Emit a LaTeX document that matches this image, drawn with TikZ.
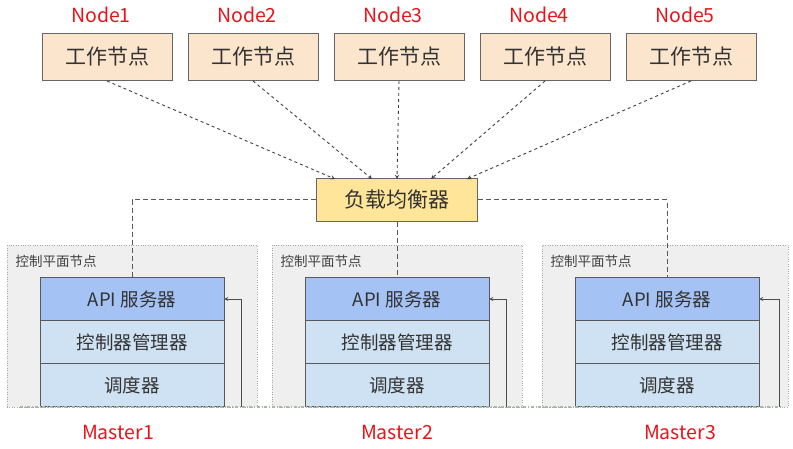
\documentclass[tikz,border=0pt]{standalone}
\usepackage{fontspec}
\setmainfont{Noto Sans CJK SC}
\usetikzlibrary{positioning}
\definecolor{workerfill}{HTML}{FCE5CD}
\definecolor{lbfill}{HTML}{FFE599}
\definecolor{apifill}{HTML}{A4C2F4}
\definecolor{layerfill}{HTML}{CFE2F3}
\definecolor{cpfill}{HTML}{EFEFEF}
\definecolor{edgegray}{HTML}{666666}
\definecolor{tagred}{HTML}{E8141B}

\begin{document}
\begin{tikzpicture}[x=1pt,y=-1pt,node distance=15pt,>=stealth,
    worker/.style={draw=edgegray,fill=workerfill,line width=1pt,minimum width=130pt,minimum height=47pt,font=\fontsize{21}{24}\selectfont,text=black!80},
    balancer/.style={draw=edgegray,fill=lbfill,line width=1pt,minimum width=161pt,minimum height=43pt,font=\fontsize{21}{24}\selectfont,text=black!80},
    layer/.style={draw=black!65,fill=layerfill,line width=1pt,minimum width=184pt,minimum height=43pt,outer sep=0pt,font=\fontsize{18.5}{20}\selectfont,text=black!80},
    api/.style={layer,fill=apifill},
    cpbox/.style={draw=black!35,dotted,fill=cpfill,minimum height=162pt},
    cptitle/.style={font=\fontsize{13.5}{15}\selectfont,text=black!75,anchor=west},
    tag/.style={text=tagred,font=\fontsize{19.5}{22}\selectfont},
    link/.style={dashed,draw=black!75,line width=0.9pt},
    uplink/.style={dash pattern=on 5pt off 3pt,draw=black!65,line width=1pt}]
    \useasboundingbox (0,0) rectangle (793,449);
    % control plane regions
    \node[cpbox,minimum width=250pt] (cp1) at (132,326) {};
    \node[cpbox,minimum width=250pt] (cp2) at (397,326) {};
    \node[cpbox,minimum width=246pt] (cp3) at (665,326) {};
    \node[cptitle] (cpt1) at (12,261) {控制平面节点};
    \node[cptitle] (cpt2) at (277,261) {控制平面节点};
    \node[cptitle] (cpt3) at (547,261) {控制平面节点};
    % workers
    \node[worker] (w1) at (107,57) {工作节点};
    \node[worker] (w2) [right = of w1] {工作节点};
    \node[worker] (w3) [right = of w2] {工作节点};
    \node[worker] (w4) [right = of w3] {工作节点};
    \node[worker] (w5) [right = of w4] {工作节点};
    \foreach \i in {1,...,5}
        \node[tag] (t\i) at ([xshift=-6pt,yshift=18pt]w\i.north) {Node\i};
    % load balancer
    \node[balancer] (lb) at (397,200) {负载均衡器};
    % masters
    \foreach \i/\x/\d in {1/132/-14,2/397/0,3/667/13} {
        \node[api] (api\i) at (\x,299) {API 服务器};
        \node[layer] (cm\i) [below = 0pt of api\i] {控制器管理器};
        \node[layer] (sch\i) [below = 0pt of cm\i] {调度器};
        \node[tag] (m\i) at ([xshift=\d pt,yshift=-26pt]sch\i.south) {Master\i};
    }
    % bottom line
    \coordinate (bl) at (20,407);
    \coordinate (br) at (781,407);
    \draw[green!20!black!35,dash dot,line width=1.2pt] (bl) -- (br);
    % feedback
    \coordinate (fb1) at (241,407);
    \coordinate (fb2) at (506,407);
    \coordinate (fb3) at (779,407);
    \foreach \i in {1,2,3}
        \draw[->,draw=black!70,line width=0.9pt] (fb\i) |- (api\i.east);
    % workers to balancer
    \coordinate (in1) at (335,179);
    \coordinate (in2) at (372,179);
    \coordinate (in3) at (397,179);
    \coordinate (in4) at (431,179);
    \coordinate (in5) at (467,179);
    \foreach \i in {1,...,5}
        \draw[->,link] (w\i.south) -- (in\i);
    % balancer to masters
    \draw[uplink] (lb.west) -| (api1.north);
    \draw[uplink] (lb.south) -- (api2.north);
    \draw[uplink] (lb.east) -| (api3.north);
\end{tikzpicture}
\end{document}
